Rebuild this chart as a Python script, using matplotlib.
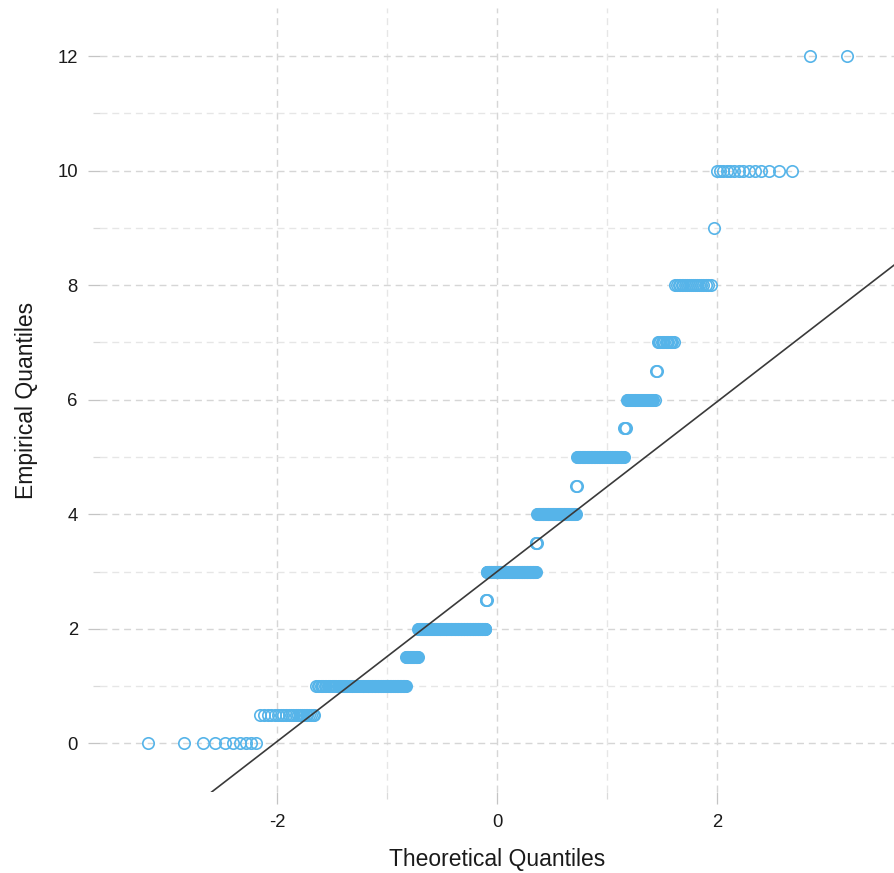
import numpy as np
import matplotlib
matplotlib.use("Agg")
import matplotlib.pyplot as plt
from matplotlib.ticker import FixedLocator
from statistics import NormalDist

# Observed values (sorted levels) and how many times each occurs
levels = [0, 0.5, 1, 1.5, 2, 2.5, 3, 3.5, 4, 4.5, 5, 5.5, 6, 6.5, 7, 8, 9, 10, 12]
counts = [10, 23, 104, 22, 150, 3, 118, 3, 82, 2, 74, 3, 30, 2, 13, 19, 1, 14, 2]

x_major = [-2, 0, 2]
x_minor = [-1, 1]
y_major = [0, 2, 4, 6, 8, 10, 12]
y_minor = [1, 3, 5, 7, 9, 11]

plt.rcParams["font.family"] = ["Liberation Sans", "DejaVu Sans"]
plt.rcParams["axes.unicode_minus"] = False

sample = np.repeat(np.array(levels, dtype=float), counts)
n = sample.size
nd = NormalDist()
theo = np.array([nd.inv_cdf((i - 0.5) / n) for i in range(1, n + 1)])

# reference line through the first and third quartiles
q1, q3 = np.percentile(sample, [25, 75])
z1, z3 = nd.inv_cdf(0.25), nd.inv_cdf(0.75)
slope = (q3 - q1) / (z3 - z1)
intercept = q1 - slope * z1

W, H = 894, 873
fig = plt.figure(figsize=(W / 100, H / 100), dpi=100)
ax = fig.add_axes([100 / W, (H - 792) / H, (894 - 100) / W, (792 - 8) / H])

ax.set_xlim(-3.612, 3.608)
ax.set_ylim(-0.850, 12.839)

ax.xaxis.set_major_locator(FixedLocator(x_major))
ax.xaxis.set_minor_locator(FixedLocator(x_minor))
ax.yaxis.set_major_locator(FixedLocator(y_major))
ax.yaxis.set_minor_locator(FixedLocator(y_minor))

dash = (0, (5, 3.5))
ax.grid(which="major", color="#d6d6d6", linestyle=dash, linewidth=1.0, zorder=0)
ax.grid(which="minor", color="#e6e6e6", linestyle=dash, linewidth=1.0, zorder=0)
ax.set_axisbelow(True)

for s in ax.spines.values():
    s.set_visible(False)

ax.tick_params(which="major", direction="out", length=8.5, width=0.9,
               color="#c4c4c4", labelsize=13.3, labelcolor="#1a1a1a", pad=7.5)
ax.tick_params(which="minor", direction="out", length=5, width=0.9,
               color="#dadada")
ax.set_xticklabels([str(v) for v in x_major])
ax.set_yticklabels([str(v) for v in y_major])

ax.plot(theo, sample, linestyle="none", marker="o", markersize=8.2,
        markerfacecolor="none", markeredgecolor="#56B4E9",
        markeredgewidth=1.2, zorder=2)

ax.axline((0, intercept), slope=slope, color="#3a3a3a", linewidth=1.2, zorder=3)

ax.set_xlabel("Theoretical Quantiles", fontsize=16.5, color="#1a1a1a", labelpad=12)
ax.set_ylabel("Empirical Quantiles", fontsize=16.5, color="#1a1a1a", labelpad=14)

fig.savefig("out.png", dpi=100)
